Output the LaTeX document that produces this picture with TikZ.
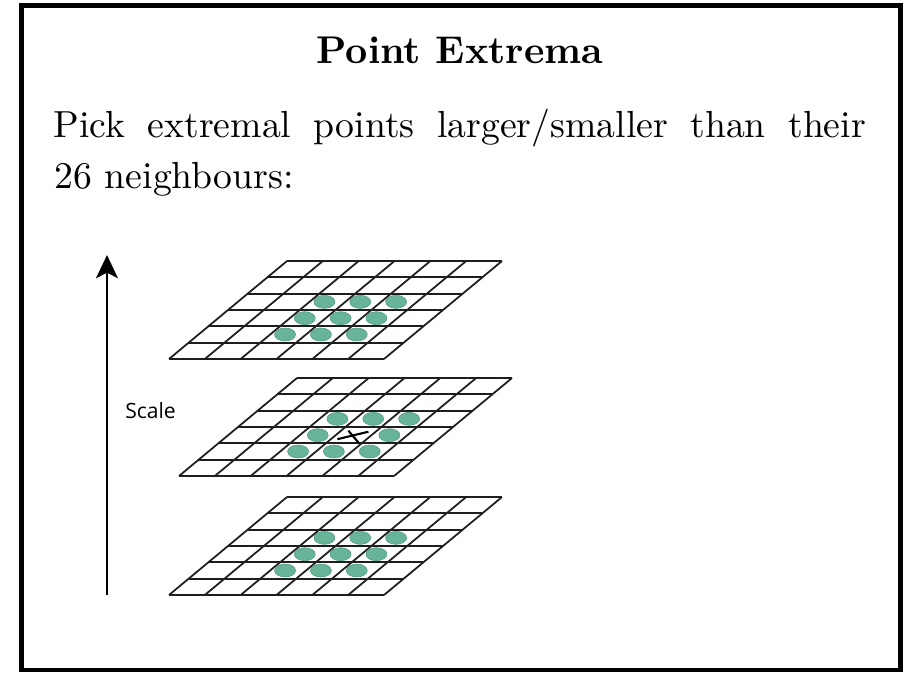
\documentclass[tikz,border=0pt]{standalone}
\usepackage{fontspec}
\usepackage{tikz}
\usetikzlibrary{arrows.meta}
\newfontfamily\scalefont{Open Sans}
\definecolor{blob}{RGB}{104, 180, 152}
\definecolor{blobedge}{RGB}{84, 156, 130}
\definecolor{gridgray}{RGB}{30, 30, 30}

\begin{document}
\begin{tikzpicture}[x=0.025cm, y=-0.025cm,
  gridline/.style={gridgray, line width=1.25pt},
  xmark/.style={black, line width=1.5pt}]

  \pgfmathsetmacro{\cw}{215/6}
  \pgfmathsetmacro{\rh}{98/6}
  \pgfmathsetmacro{\sh}{118/6}

  \useasboundingbox (0, 0) rectangle (912, 673);
  \draw[line width=3.5pt] (21.5, 5.5) rectangle (900.5, 670);

  \node[font=\bfseries, scale=2.75, inner sep=0, anchor=base] (title) at (460, 63) {Point Extrema};
  \node[scale=2.68, inner sep=0, anchor=base west] (line1) at (53, 137) {\hbox to 7.575cm{Pick extremal points larger/smaller than their}};
  \node[scale=2.68, inner sep=0, anchor=base west] (line2) at (54, 188) {26 neighbours:};

  % scale axis
  \coordinate (scalebot) at (107, 595);
  \coordinate (scaletop) at (107, 255);
  \draw[-{Stealth[length=16.5pt, width=15.5pt, inset=4pt]}, line width=2.1pt] (scalebot) -- (scaletop);
  \node[font=\scalefont\fontsize{15}{18}\selectfont, inner sep=0, anchor=base west] (scale) at (125, 418) {Scale};

  % three layers: top-left corner, blob shift, hole in the middle
  \foreach \tx/\ty/\ex/\cen in {287/261/-3/0, 297/378/0/1, 287/497/-3/0} {
    \foreach \j in {0,...,6}
      \draw[gridline] (\tx-\j*\sh, \ty+\j*\rh) -- ++(215, 0);
    \foreach \i in {0,...,6}
      \draw[gridline] (\tx+\i*\cw, \ty) -- ++(-118, 98);
    \foreach \c in {2,3,4}
      \foreach \r in {2,3,4} {
        \pgfmathtruncatemacro{\hole}{\cen*(\c==3)*(\r==3)}
        \ifnum\hole=0
          \filldraw[fill=blob, draw=blobedge, line width=0.4pt]
            (\tx+\c*\cw+0.5*\cw-\r*\sh-0.5*\sh+\ex, \ty+\r*\rh+0.5*\rh) ellipse (10.5 and 6.5);
        \fi
      }
  }

  \draw[xmark] (337.4, 439.2) -- (368.4, 431.7);
  \draw[xmark] (348.4, 430.7) -- (359, 443.2);

\end{tikzpicture}
\end{document}
